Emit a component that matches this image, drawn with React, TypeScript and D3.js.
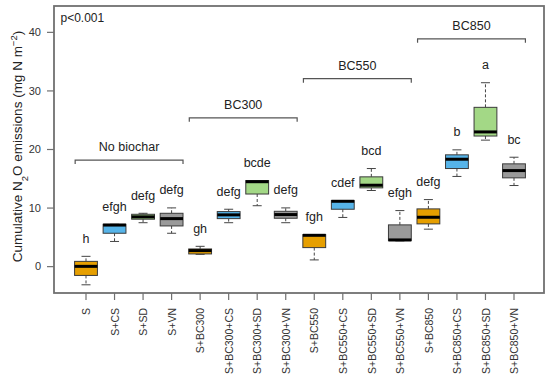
import React from 'react';
import * as d3 from 'd3';

const categories = [
  'S', 'S+CS', 'S+SD', 'S+VN',
  'S+BC300', 'S+BC300+CS', 'S+BC300+SD', 'S+BC300+VN',
  'S+BC550', 'S+BC550+CS', 'S+BC550+SD', 'S+BC550+VN',
  'S+BC850', 'S+BC850+CS', 'S+BC850+SD', 'S+BC850+VN',
];

// five-number summaries (mg N m-2)
const whiskerLow = [-3.1, 4.3, 7.5, 5.7, 2.1, 7.5, 10.4, 7.5, 1.15, 8.4, 13.0, 4.4, 6.4, 15.4, 21.6, 13.85];
const q1 = [-1.5, 5.7, 8.1, 6.95, 2.17, 8.2, 12.4, 8.26, 3.25, 9.8, 13.45, 4.44, 7.3, 16.75, 22.3, 15.16];
const median = [0.05, 7.1, 8.5, 8.2, 2.74, 8.84, 14.5, 8.89, 5.35, 11.16, 13.9, 4.56, 8.43, 18.34, 23.0, 16.4];
const q3 = [0.9, 7.23, 8.94, 9.11, 3.02, 9.4, 14.7, 9.45, 5.47, 11.28, 15.33, 7.13, 9.86, 19.09, 27.2, 17.55];
const whiskerHigh = [1.76, 7.23, 9.11, 10.03, 3.47, 9.8, 14.7, 10.03, 5.47, 11.28, 16.75, 9.57, 11.45, 19.94, 31.4, 18.68];

const letters = [
  'h', 'efgh', 'defg', 'defg',
  'gh', 'defg', 'bcde', 'defg',
  'fgh', 'cdef', 'bcd', 'efgh',
  'defg', 'b', 'a', 'bc',
];

// amendment type -> fill
const amendments = ['none', 'CS', 'SD', 'VN'];
const amendmentColors = ['#E69F00', '#56B4E9', '#A3D886', '#9A9A9A'];

const groupNames = ['No biochar', 'BC300', 'BC550', 'BC850'];
const groupLevel = [18.2, 25.4, 32.1, 38.9];

const yTicks = [0, 10, 20, 30, 40];

const W = 550;
const H = 377;
const frame = { left: 54, right: 544, top: 6, bottom: 293 };
const FONT = '"Liberation Sans", Arial, sans-serif';

export default function App() {
  const x = d3.scalePoint<string>().domain(categories).range([86, 514]);
  const step = x.step();
  const y = d3.scaleLinear().domain([-4.5, 44.5]).range([frame.bottom, frame.top]);
  const boxW = step * 0.8;
  const capW = 9;

  return (
    <svg
      width={W}
      height={H}
      style={{ position: 'absolute', left: 0, top: 0, background: '#fff' }}
      fontFamily={FONT}
    >
      {/* frame */}
      <rect
        x={frame.left}
        y={frame.top}
        width={frame.right - frame.left}
        height={frame.bottom - frame.top}
        fill="none"
        stroke="#707070"
        strokeWidth={1.8}
      />

      {/* y axis */}
      {yTicks.map(t => (
        <g key={t}>
          <line x1={frame.left - 7} x2={frame.left} y1={y(t)} y2={y(t)} stroke="#707070" strokeWidth={1.2} />
          <text x={frame.left - 13} y={y(t)} dy="0.35em" textAnchor="end" fontSize={11} fill="#333">
            {t}
          </text>
        </g>
      ))}
      <text
        transform={`translate(22,${(frame.top + frame.bottom) / 2 - 3}) rotate(-90)`}
        textAnchor="middle"
        fontSize={13.5}
        fill="#222"
      >
        Cumulative N<tspan baselineShift="sub" fontSize={9.5}>2</tspan>O emissions (mg N m<tspan baselineShift="super" fontSize={9.5}>−2</tspan>)
      </text>

      <text x={60.5} y={21.5} fontSize={12} fill="#222">p&lt;0.001</text>

      {/* x axis */}
      {categories.map(c => (
        <g key={c}>
          <line x1={x(c)} x2={x(c)} y1={frame.bottom} y2={frame.bottom + 7} stroke="#707070" strokeWidth={1.2} />
          <text
            transform={`translate(${x(c)! + 0.5},${frame.bottom + 15}) rotate(-90)`}
            dy="0.35em"
            textAnchor="end"
            fontSize={10.5}
            fill="#333"
          >
            {c}
          </text>
        </g>
      ))}

      {/* group brackets */}
      {groupNames.map((g, gi) => {
        const x0 = x(categories[gi * 4])! - step * 0.38;
        const x1 = x(categories[gi * 4 + 3])! + step * 0.4;
        const yy = y(groupLevel[gi]);
        return (
          <g key={g}>
            <path
              d={`M${x0},${yy + 4}V${yy}H${x1}V${yy + 4}`}
              fill="none"
              stroke="#555"
              strokeWidth={1.2}
            />
            <text x={(x0 + x1) / 2} y={yy - 9} textAnchor="middle" fontSize={12.5} fill="#222">
              {g}
            </text>
          </g>
        );
      })}

      {/* boxes */}
      {categories.map((c, i) => {
        const cx = x(c)!;
        const fill = amendmentColors[i % amendments.length];
        return (
          <g key={c}>
            <line x1={cx} x2={cx} y1={y(q3[i])} y2={y(whiskerHigh[i])} stroke="#444" strokeDasharray="3,2" />
            <line x1={cx} x2={cx} y1={y(q1[i])} y2={y(whiskerLow[i])} stroke="#444" strokeDasharray="3,2" />
            <line x1={cx - capW / 2} x2={cx + capW / 2} y1={y(whiskerHigh[i])} y2={y(whiskerHigh[i])} stroke="#444" />
            <line x1={cx - capW / 2} x2={cx + capW / 2} y1={y(whiskerLow[i])} y2={y(whiskerLow[i])} stroke="#444" />
            <rect
              x={cx - boxW / 2}
              y={y(q3[i])}
              width={boxW}
              height={y(q1[i]) - y(q3[i])}
              fill={fill}
              stroke="#3a3a3a"
              strokeWidth={1}
            />
            <line x1={cx - boxW / 2} x2={cx + boxW / 2} y1={y(median[i])} y2={y(median[i])} stroke="#000" strokeWidth={3} />
            <text x={cx} y={y(whiskerHigh[i]) - 13.5} textAnchor="middle" fontSize={12.5} fill="#222">
              {letters[i]}
            </text>
          </g>
        );
      })}
    </svg>
  );
}
